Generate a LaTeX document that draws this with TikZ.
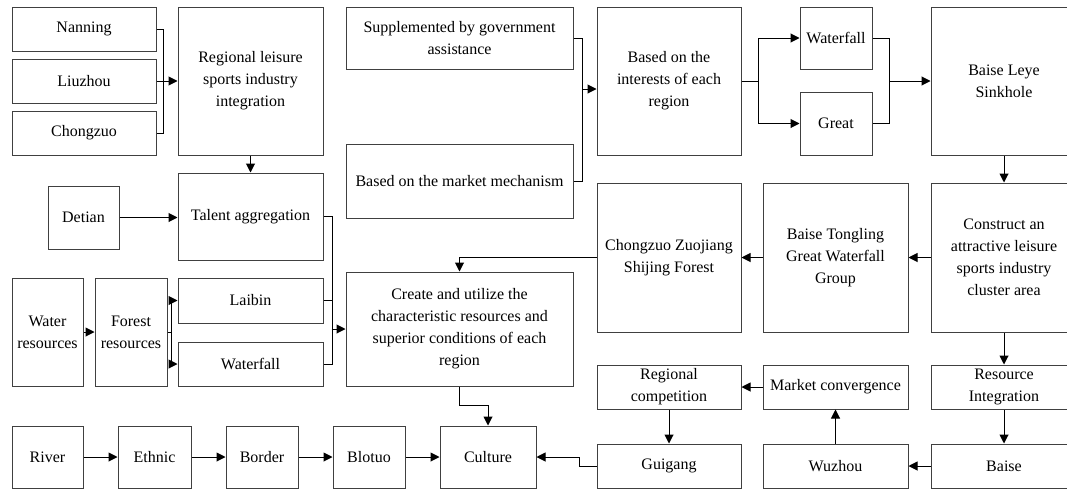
\documentclass[tikz,border=0pt]{standalone}
\usepackage{fontspec}
\setmainfont{Liberation Serif}
\usetikzlibrary{arrows.meta,calc}
\tikzset{
  cell/.style={rectangle, draw=black!75, line width=1pt, align=center, inner sep=2pt, font=\fontsize{16}{22}\selectfont},
  arrow/.style={-{Triangle[length=9pt,width=9pt]}, line width=1pt},
  link/.style={line width=1pt}
}

\begin{document}
\begin{tikzpicture}[x=1pt, y=-1pt]
  \useasboundingbox (0,0) rectangle (1067,490);
  \clip (0,0) rectangle (1067,490);
  % cities and integration
  \node[cell, minimum width=144, minimum height=44] (nan) at (84,29) {Nanning};
  \node[cell, minimum width=144, minimum height=44] (liu) at (84,81) {Liuzhou};
  \node[cell, minimum width=144, minimum height=44] (chz) at (84,133) {Chongzuo};
  \node[cell, minimum width=145, minimum height=148] (reg) at (250.5,81) {Regional leisure\\sports industry\\integration};
  \node[cell, minimum width=145, minimum height=87] (tal) at (250.5,216.5) {Talent aggregation};
  \node[cell, minimum width=71, minimum height=63] (dt) at (83.5,217.5) {Detian};
  % resources
  \node[cell, minimum width=71, minimum height=108] (wat) at (47.5,332) {Water\\resources};
  \node[cell, minimum width=72, minimum height=108] (for) at (131,332) {Forest\\resources};
  \node[cell, minimum width=145, minimum height=45] (lai) at (250.5,300.5) {Laibin};
  \node[cell, minimum width=145, minimum height=44] (wf2) at (250.5,364) {Waterfall};
  \node[cell, minimum width=227, minimum height=114] (cre) at (459.5,329) {Create and utilize the\\characteristic resources and\\superior conditions of each\\region};
  % mechanisms
  \node[cell, minimum width=227, minimum height=62] (sup) at (459.5,38) {Supplemented by government\\assistance};
  \node[cell, minimum width=227, minimum height=74] (mkt) at (459.5,181) {Based on the market mechanism};
  \node[cell, minimum width=144, minimum height=148] (int) at (669,81) {Based on the\\interests of each\\region};
  \node[cell, minimum width=72, minimum height=62] (wf1) at (836,38) {Waterfall};
  \node[cell, minimum width=72, minimum height=63] (grt) at (836,123.5) {Great};
  \node[cell, minimum width=146, minimum height=148] (ley) at (1004,81) {Baise Leye\\Sinkhole};
  % cluster row
  \node[cell, minimum width=146, minimum height=149] (con) at (1004,257.5) {Construct an\\attractive leisure\\sports industry\\cluster area};
  \node[cell, minimum width=145, minimum height=149] (ton) at (835.5,257.5) {Baise Tongling\\Great Waterfall\\Group};
  \node[cell, minimum width=144, minimum height=149] (zuo) at (669,257.5) {Chongzuo Zuojiang\\Shijing Forest};
  % market row
  \node[cell, minimum width=146, minimum height=44] (res) at (1004,387) {Resource\\Integration};
  \node[cell, minimum width=145, minimum height=44] (mcv) at (835.5,387) {Market convergence};
  \node[cell, minimum width=144, minimum height=44] (rcp) at (669,387) {Regional\\competition};
  \node[cell, minimum width=146, minimum height=44] (bai) at (1004,466) {Baise};
  \node[cell, minimum width=145, minimum height=44] (wuz) at (835.5,466) {Wuzhou};
  \node[cell, minimum width=144, minimum height=44] (gui) at (669,466) {Guigang};
  % bottom chain
  \node[cell, minimum width=71, minimum height=62] (riv) at (47.5,457) {River};
  \node[cell, minimum width=73, minimum height=62] (eth) at (154.5,457) {Ethnic};
  \node[cell, minimum width=72, minimum height=62] (bor) at (262,457) {Border};
  \node[cell, minimum width=72, minimum height=62] (blo) at (369,457) {Blotuo};
  \node[cell, minimum width=96, minimum height=62] (cul) at (488,457) {Culture};

  % junctions
  \coordinate (jt) at ($(tal.east)+(9,0)$);
  \coordinate (jc) at ($(cre.west)+(-14,0)$);
  \coordinate (js) at ($(sup.east)+(9,51)$);
  \coordinate (jw) at ($(wf1.east)+(17,43)$);

  % connectors
  \draw[link] (nan.east) -- ++(7,0) |- (chz.east);
  \draw[arrow] (liu.east) -- (reg.west);
  \draw[arrow] (reg) -- (tal);
  \draw[arrow] (dt.east) -- (dt.east -| tal.west);
  \draw[link] (tal.east) -- (jt) |- (wf2.east);
  \draw[link] (lai.east) -- (lai.east -| jt);
  \draw[arrow] (jc) -- (cre.west);
  \draw[arrow] (wat) -- (for);
  \draw[arrow] (for.east) -- ++(4,0) |- (lai.west);
  \draw[arrow] (for.east) -- ++(4,0) |- (wf2.west);
  \draw[link] (sup.east) -- ++(9,0) |- (mkt.east);
  \draw[arrow] (js) -- (js -| int.west);
  \draw[arrow] (int.east) -- ++(17,0) |- (wf1.west);
  \draw[arrow] (int.east) -- ++(17,0) |- (grt.west);
  \draw[link] (wf1.east) -- ++(17,0) |- (grt.east);
  \draw[arrow] (jw) -- (ley.west);
  \draw[arrow] (ley) -- (con);
  \draw[arrow] (con) -- (ton);
  \draw[arrow] (ton) -- (zuo);
  \draw[arrow] (zuo.west) -| (cre.north);
  \draw[arrow] (con) -- (res);
  \draw[arrow] (res) -- (bai);
  \draw[arrow] (bai) -- (wuz);
  \draw[arrow] (wuz) -- (mcv);
  \draw[arrow] (mcv) -- (rcp);
  \draw[arrow] (rcp) -- (gui);
  \draw[arrow] (gui.west) -- ++(-17,0) |- (cul.east);
  \draw[arrow] (cre.south) -- ++(0,19) -| (cul.north);
  \draw[arrow] (riv) -- (eth);
  \draw[arrow] (eth) -- (bor);
  \draw[arrow] (bor) -- (blo);
  \draw[arrow] (blo) -- (cul);
\end{tikzpicture}
\end{document}
